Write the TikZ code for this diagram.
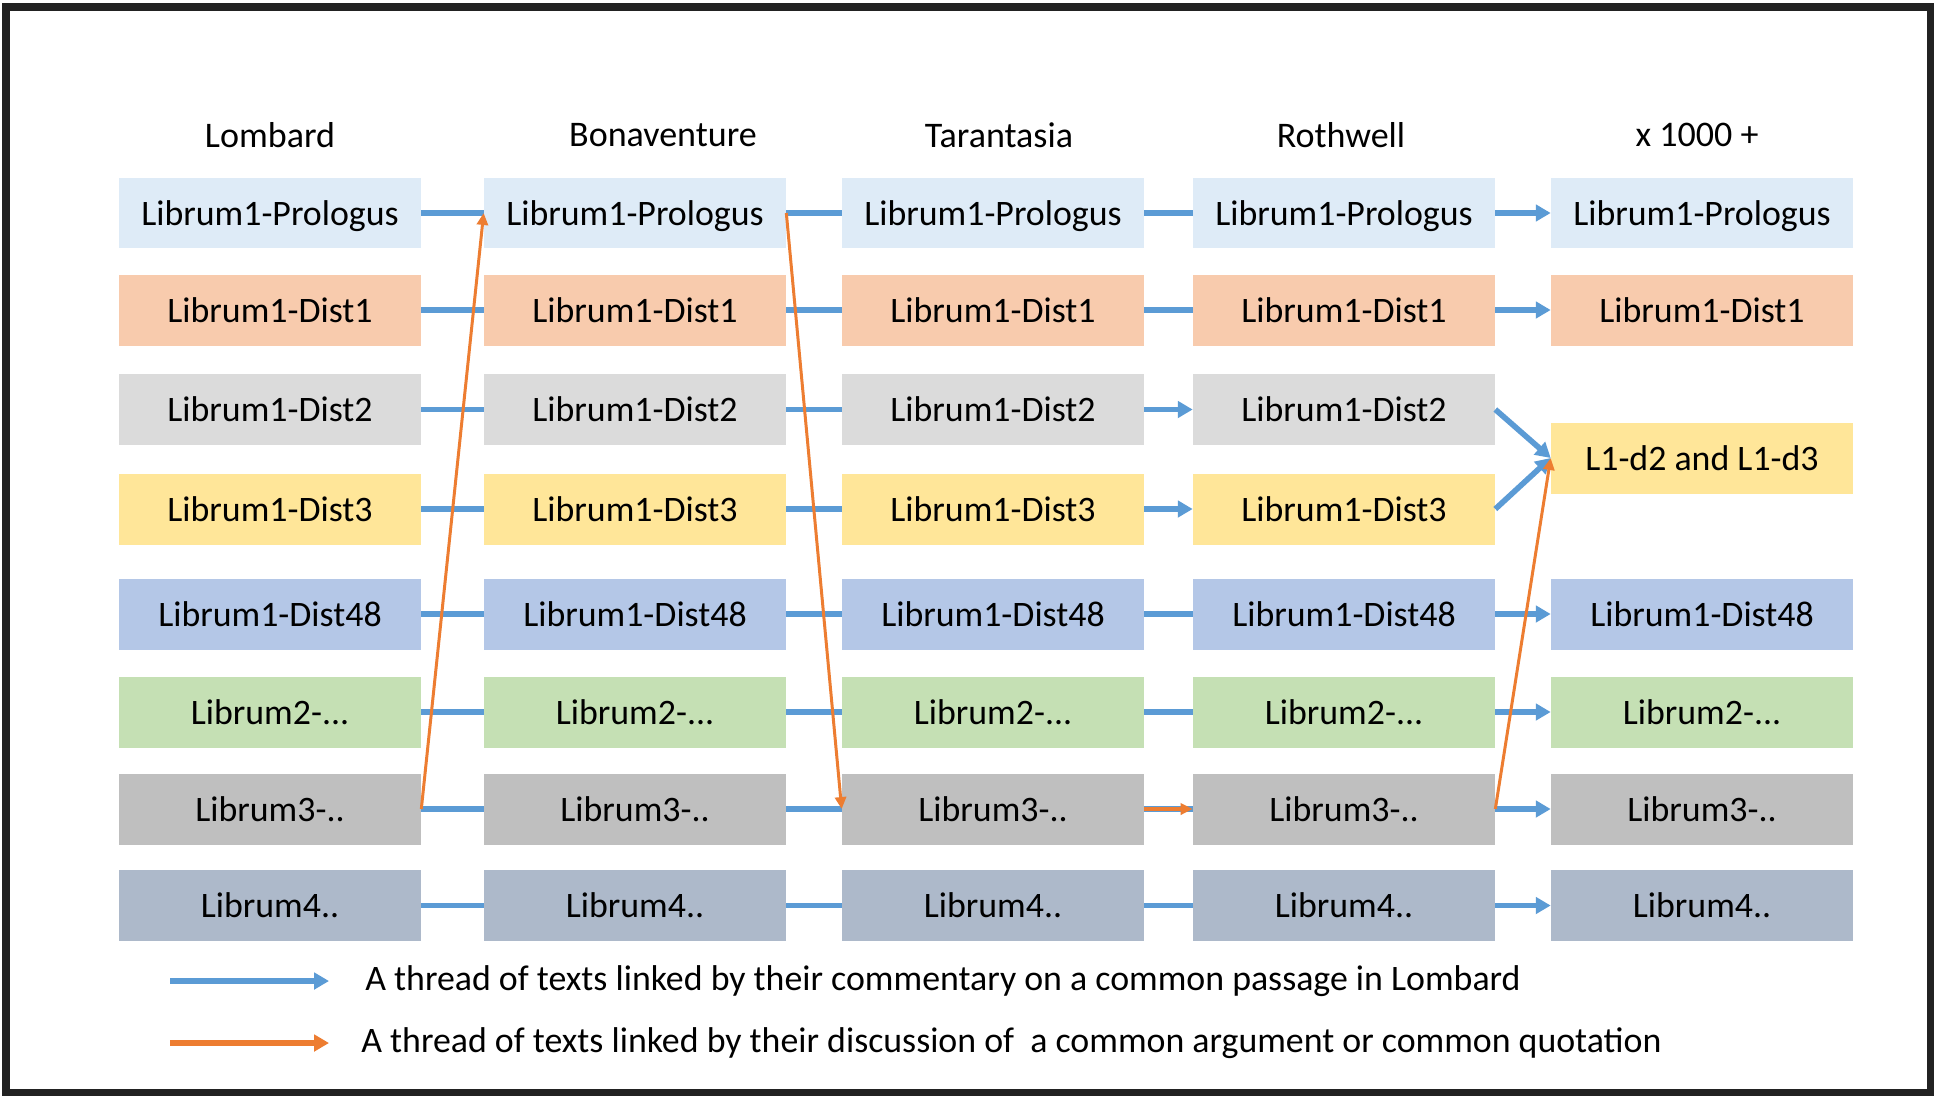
\documentclass[tikz,border=0pt]{standalone}
\usepackage{fontspec}
\setmainfont{Carlito}
\usepackage{xcolor}
\usepackage{tikz}
\usetikzlibrary{arrows.meta}
\definecolor{frame}{HTML}{222222}
\definecolor{prolog}{HTML}{DEEBF7}
\definecolor{distA}{HTML}{F8CBAD}
\definecolor{distB}{HTML}{DBDBDB}
\definecolor{distC}{HTML}{FFE699}
\definecolor{distD}{HTML}{B4C7E7}
\definecolor{libB}{HTML}{C5E0B4}
\definecolor{libC}{HTML}{BFBFBF}
\definecolor{libD}{HTML}{ADB9CA}
\definecolor{thread}{HTML}{5B9BD5}
\definecolor{quote}{HTML}{ED7D31}
\tikzset{
  box/.style={minimum width=6.04cm, minimum height=1.42cm, inner sep=0pt,
    text height=17pt, text depth=3pt, font=\fontsize{20.4}{24}\selectfont},
  head/.style={font=\fontsize{20.5}{24}\selectfont},
  key/.style={anchor=west, inner sep=0pt, font=\fontsize{20.4}{24}\selectfont},
  lineB/.style={line width=3.2pt, draw=thread},
  arrB/.style={lineB, -{Triangle[length=8.5pt,width=9.3pt]}},
  arrO/.style={line width=1.7pt, draw=quote, -{Triangle[length=6.8pt,width=6.3pt]}},
  keyO/.style={line width=3.4pt, draw=quote, -{Triangle[length=8.5pt,width=9.3pt]}}
}
\begin{document}
\begin{tikzpicture}[x=0.02cm, y=-0.02cm]
  \useasboundingbox (0,0) rectangle (1934,1096);
  \fill[white] (0,0) rectangle (1934,1096);
  \draw[frame, line width=4pt] (6,7) rectangle (1930,1092);

  % column heads
  \node[head] (hL) at (270,135) {Lombard};
  \node[head] (hB) at (663,135) {Bonaventure};
  \node[head] (hT) at (999,135) {Tarantasia};
  \node[head] (hR) at (1341,135) {Rothwell};
  \node[head] (hX) at (1697,135) {x 1000 +};

  % the four commentators
  \foreach \c/\x in {L/270,B/635,T/993,R/1344} {
    \node[box, fill=prolog] (\c1) at (\x,213) {Librum1-Prologus};
    \node[box, fill=distA] (\c2) at (\x,310) {Librum1-Dist1};
    \node[box, fill=distB] (\c3) at (\x,409.5) {Librum1-Dist2};
    \node[box, fill=distC] (\c4) at (\x,509) {Librum1-Dist3};
    \node[box, fill=distD] (\c5) at (\x,614) {Librum1-Dist48};
    \node[box, fill=libB] (\c6) at (\x,712) {Librum2-...};
    \node[box, fill=libC] (\c7) at (\x,809) {Librum3-..};
    \node[box, fill=libD] (\c8) at (\x,905.5) {Librum4..};
  }

  % later commentaries
  \node[box, fill=prolog] (X1) at (1702,213) {Librum1-Prologus};
  \node[box, fill=distA] (X2) at (1702,310) {Librum1-Dist1};
  \node[box, fill=distC] (X34) at (1702,458) {L1-d2 and L1-d3};
  \node[box, fill=distD] (X5) at (1702,614) {Librum1-Dist48};
  \node[box, fill=libB] (X6) at (1702,712) {Librum2-...};
  \node[box, fill=libC] (X7) at (1702,809) {Librum3-..};
  \node[box, fill=libD] (X8) at (1702,905.5) {Librum4..};

  % threads on a common passage
  \foreach \r in {1,...,8} {
    \draw[lineB] (L\r) -- (B\r);
    \draw[lineB] (B\r) -- (T\r);
  }
  \foreach \r in {1,2,5,6,7,8} {
    \draw[lineB] (T\r) -- (R\r);
    \draw[arrB] (R\r) -- (X\r);
  }
  \draw[arrB] (T3) -- (R3);
  \draw[arrB] (T4) -- (R4);
  \draw[arrB] (R3.east) -- (X34.west);
  \draw[arrB] (R4.east) -- (X34.west);

  % threads on a common argument
  \draw[arrO] (L7.east) -- (B1.west);
  \draw[arrO] (B1.east) -- (T7.west);
  \draw[arrO, line width=2pt] (T7.east) -- (R7.west);
  \draw[arrO] (R7.east) -- (X34.west);

  % legend
  \coordinate (keyB) at (170,981);
  \coordinate (keyBend) at (329,981);
  \coordinate (keyO) at (170,1043);
  \coordinate (keyOend) at (329,1043);
  \draw[arrB] (keyB) -- (keyBend);
  \draw[keyO] (keyO) -- (keyOend);
  \node[key] (keyBtext) at (365,981) {A thread of texts linked by their commentary on a common passage in Lombard};
  \node[key] (keyOtext) at (361,1043) {A thread of texts linked by their discussion of\ \ a common argument or common quotation};
\end{tikzpicture}
\end{document}
